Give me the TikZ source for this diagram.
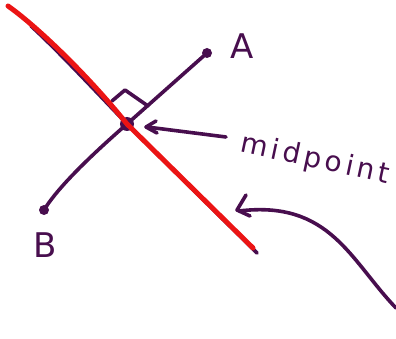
\documentclass[tikz,border=0pt]{standalone}
\usepackage{fontspec}
\setmainfont{DejaVu Sans}
\definecolor{ink}{RGB}{72,14,78}
\definecolor{pen}{RGB}{235,20,20}
\begin{document}
\begin{tikzpicture}[x=1pt,y=-1pt,
  stroke/.style={draw=ink,line width=3.6pt,line cap=round,line join=round},
  redstroke/.style={draw=pen,line width=5pt,line cap=round,line join=round},
  dot/.style={circle,fill=ink,inner sep=0pt,minimum size=#1},
  lbl/.style={text=ink,font=\fontsize{34}{34}\selectfont,inner sep=0pt}]
\useasboundingbox (0,0) rectangle (396,339);
% points
\node[dot=10pt] (pA) at (207,53) {};
\node[dot=10pt] (pB) at (44,210) {};
\node[dot=14pt] (M) at (127,124) {};
\node[lbl] (lA) at (242,46) {A};
\node[lbl] (lB) at (45,245) {B};
\node[lbl,rotate=-12,font=\fontsize{28}{28}\selectfont\addfontfeature{LetterSpace=14}] (mid) at (315,160) {midpoint};
\coordinate (c1) at (31,26);
\coordinate (c2) at (257,253);
\coordinate (r1) at (8,6);
\coordinate (r2) at (253,248);
% purple line under red
\draw[stroke] (c1) .. controls (55,48) and (85,80) .. (127,124) -- (c2);
% segment
\draw[stroke] (pB.center) .. controls (55,192) and (80,165) .. (M.center) -- (pA.center);
% right angle mark
\draw[stroke] (112,101) -- (125,90) -- (148,106);
% red line
\draw[redstroke] (r1) .. controls (35,25) and (85,72) .. (127,124) -- (r2);
% arrow to midpoint
\coordinate (t1) at (226,137);
\draw[stroke] (t1) -- (147,127);
\draw[stroke] (156,121) -- (146,127) -- (157,133);
% curved arrow
\coordinate (e1) at (396,308);
\coordinate (e2) at (239,211);
\draw[stroke] (e1) .. controls (350,260) and (330,200) .. (e2);
\draw[stroke] (246,195) -- (237,210) -- (250,216);
\end{tikzpicture}
\end{document}
